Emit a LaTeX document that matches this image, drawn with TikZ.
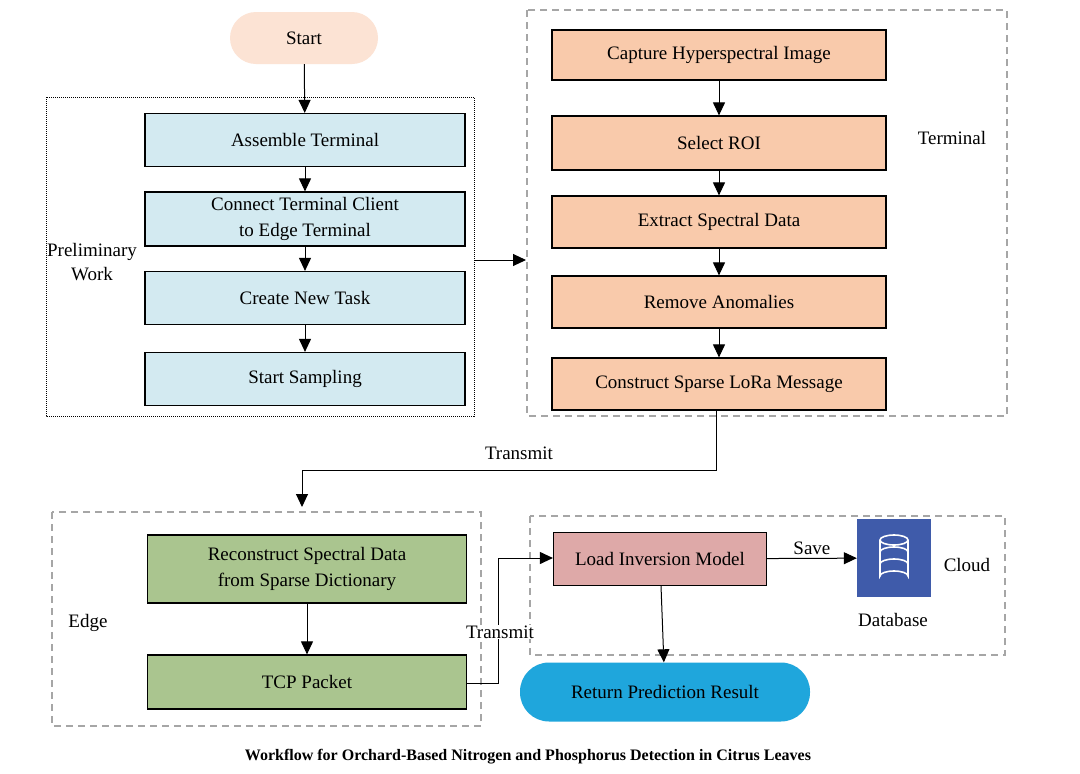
\documentclass[tikz,border=0pt]{standalone}
\usepackage{fontspec}
\setmainfont{Liberation Serif}
\usetikzlibrary{arrows.meta}
\begin{document}
\begin{tikzpicture}[x=1pt,y=-1pt,
  box/.style={draw=black,line width=1.2pt,minimum height=53pt,align=center,font=\fontsize{19}{20}\selectfont,inner sep=2pt},
  bluebox/.style={box,fill=cyan!8!blue!2!white,fill=blueboxc,minimum width=320pt},
  orbox/.style={box,fill=orboxc,minimum width=334pt},
  grbox/.style={box,fill=grboxc,minimum width=319pt},
  lbl/.style={font=\fontsize{19}{22}\selectfont,align=center},
  arr/.style={-{Triangle[length=13pt,width=12pt]},line width=1pt},
  grp/.style={draw=gray!70,dashed,line width=1.2pt,dash pattern=on 7pt off 5pt}]
\definecolor{blueboxc}{HTML}{D3EAF1}
\definecolor{orboxc}{HTML}{F9CAAB}
\definecolor{grboxc}{HTML}{AAC58F}
\definecolor{pinkc}{HTML}{DEA9A8}
\definecolor{startc}{HTML}{FCE3D4}
\definecolor{dbc}{HTML}{3F5BAA}
\definecolor{retc}{HTML}{1FA6DC}
\useasboundingbox (0,0) rectangle (1080,774);
\fill[white] (0,0) rectangle (1080,774);
% groups
\draw[black,densely dotted,line width=1pt] (46,97) rectangle (474,416);
\draw[grp] (527,10) rectangle (1007,416);
\draw[grp] (52,512) rectangle (481,726);
\draw[grp] (530,516) rectangle (1005,655);
\coordinate (pr) at (474,260);
\coordinate (tl) at (526,260);
% nodes
\node[fill=startc,rounded corners=26pt,minimum width=148pt,minimum height=52pt,lbl] (start) at (304,38) {Start};
\node[bluebox] (a1) at (305,140) {Assemble Terminal};
\node[bluebox,minimum height=54pt,font=\fontsize{19}{26}\selectfont] (a2) at (305,219) {Connect Terminal Client\\to Edge Terminal};
\node[bluebox] (a3) at (305,298) {Create New Task};
\node[bluebox] (a4) at (305,379) {Start Sampling};
\node[lbl,font=\fontsize{19}{24}\selectfont] (pw) at (92,262) {Preliminary\\Work};
\node[orbox,minimum height=50pt] (b1) at (719,55) {Capture Hyperspectral Image};
\node[orbox,minimum height=54pt] (b2) at (719,143) {Select ROI};
\node[orbox,minimum height=52pt] (b3) at (719,222) {Extract Spectral Data};
\node[orbox,minimum height=52pt] (b4) at (719,302) {Remove Anomalies};
\node[orbox,minimum height=52pt] (b5) at (719,384) {Construct Sparse LoRa Message};
\node[lbl] (term) at (952,138) {Terminal};
\node[grbox,minimum height=68pt,font=\fontsize{19}{26}\selectfont] (c1) at (307,569) {Reconstruct Spectral Data\\from Sparse Dictionary};
\node[grbox,minimum height=54pt] (c2) at (307,682) {TCP Packet};
\node[lbl] (edge) at (88,623) {Edge};
\node[box,fill=pinkc,minimum width=213pt] (d1) at (660,559) {Load Inversion Model};
\node[fill=dbc,minimum width=74pt,minimum height=78pt] (db) at (894,558) {};
\node[lbl] (dbl) at (893,620) {Database};
\node[lbl] (cloud) at (967,565) {Cloud};
\node[fill=retc,rounded corners=29pt,minimum width=290pt,minimum height=59pt,lbl] (ret) at (665,692) {Return Prediction Result};
\node[font=\bfseries\fontsize{16}{18}\selectfont] (cap) at (528,757) {Workflow for Orchard-Based Nitrogen and Phosphorus Detection in Citrus Leaves};
% database icon
\begin{scope}[white,line width=1.6pt]
\draw (880,540) -- (880,576) arc[start angle=180,end angle=360,x radius=14,y radius=5] -- (908,540);
\draw (894,540) ellipse[x radius=14,y radius=5];
\draw (880,552) arc[start angle=180,end angle=360,x radius=14,y radius=5];
\draw (880,564) arc[start angle=180,end angle=360,x radius=14,y radius=5];
\end{scope}
% arrows
\draw[arr] (start) -- (a1);
\draw[arr] (a1) -- (a2);
\draw[arr] (a2) -- (a3);
\draw[arr] (a3) -- (a4);
\draw[arr] (pr) -- (tl);
\draw[arr] (b1) -- (b2);
\draw[arr] (b2) -- (b3);
\draw[arr] (b3) -- (b4);
\draw[arr] (b4) -- (b5);
\coordinate (t1) at (716,470);
\coordinate (t2) at (302,470);
\coordinate (t3) at (302,507);
\draw[arr] (b5.south -| t1) -- (t1) -- (t2) -- (t3);
\node[lbl] (tr1) at (519,453) {Transmit};
\draw[arr] (c1) -- (c2);
\coordinate (u1) at (498,683);
\coordinate (u2) at (498,558);
\draw[arr] (c2.east |- u1) -- (u1) -- (u2) -- (d1.west |- u2);
\node[lbl,fill=white,inner sep=1pt] (tr2) at (500,632) {Transmit};
\draw[arr] (d1) -- node[lbl,above] (save) {Save} (db);
\draw[arr] (d1) -- (ret);
\end{tikzpicture}
\end{document}
